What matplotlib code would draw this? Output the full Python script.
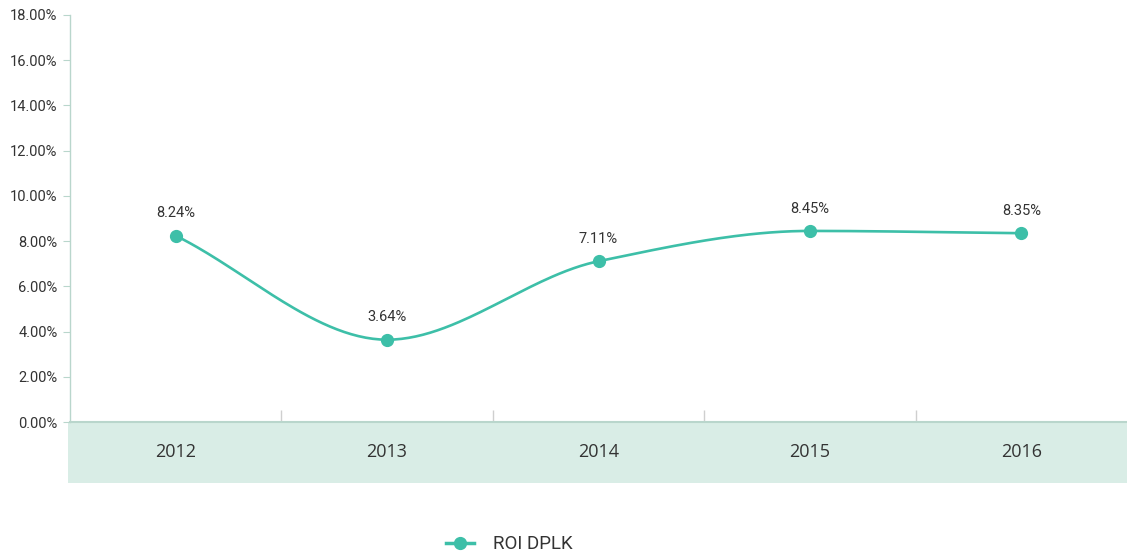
import numpy as np
import matplotlib
matplotlib.use("Agg")
import matplotlib.pyplot as plt
from matplotlib.patches import Rectangle
from matplotlib.ticker import FuncFormatter

years = ["2012", "2013", "2014", "2015", "2016"]
roi = [8.24, 3.64, 7.11, 8.45, 8.35]
labels = ["8.24%", "3.64%", "7.11%", "8.45%", "8.35%"]
series_name = "ROI DPLK"
y_ticks = [0, 2, 4, 6, 8, 10, 12, 14, 16, 18]

LINE = "#3dbfa8"
AXIS = "#b9d6cc"
BAND = "#d9ede6"
TEXT = "#333333"

plt.rcParams["font.family"] = ["Open Sans", "DejaVu Sans"]
NARROW = ["Roboto", "DejaVu Sans"]


def monotone_curve(x, y, n=60):
    """Fritsch-Carlson monotone cubic through the points."""
    x = np.asarray(x, float)
    y = np.asarray(y, float)
    h = np.diff(x)
    d = np.diff(y) / h
    m = np.zeros_like(y)
    m[0], m[-1] = d[0], d[-1]
    for i in range(1, len(y) - 1):
        if d[i - 1] * d[i] <= 0:
            m[i] = 0.0
        else:
            w1 = 2 * h[i] + h[i - 1]
            w2 = h[i] + 2 * h[i - 1]
            m[i] = (w1 + w2) / (w1 / d[i - 1] + w2 / d[i])
    xs, ys = [], []
    for i in range(len(h)):
        t = np.linspace(0, 1, n)
        h00 = 2 * t**3 - 3 * t**2 + 1
        h10 = t**3 - 2 * t**2 + t
        h01 = -2 * t**3 + 3 * t**2
        h11 = t**3 - t**2
        xs.append(x[i] + t * h[i])
        ys.append(h00 * y[i] + h10 * h[i] * m[i] + h01 * y[i + 1] + h11 * h[i] * m[i + 1])
    return np.concatenate(xs), np.concatenate(ys)


fig = plt.figure(figsize=(11.27, 5.57), dpi=100)
ax = fig.add_axes([70 / 1127, 1 - 422 / 557, 1 - 70 / 1127, 407 / 557])

xpos = np.arange(len(years)) + 0.5
cx, cy = monotone_curve(xpos, roi)
ax.plot(cx, cy, color=LINE, lw=1.9, zorder=3, solid_capstyle="round")
ax.plot(xpos, roi, "o", color=LINE, ms=8.5, zorder=4)

for xp, v, lab in zip(xpos, roi, labels):
    ax.annotate(lab, (xp, v), xytext=(0, 11), textcoords="offset points",
                ha="center", va="bottom", fontsize=10.5, color=TEXT, family=NARROW)

ax.set_xlim(0, len(years))
ax.set_ylim(0, 18)
ax.set_yticks(y_ticks)
ax.yaxis.set_major_formatter(FuncFormatter(lambda v, _: f"{v:.2f}%"))
ax.tick_params(axis="y", direction="out", length=5, color=AXIS, labelsize=10.5,
               labelcolor=TEXT, pad=4)
for t in ax.get_yticklabels():
    t.set_family(NARROW)
ax.set_xticks(np.arange(1, len(years)))
ax.set_xticklabels([])
ax.tick_params(axis="x", direction="in", length=8.5, color="#cfcfcf", width=1)

for s in ["top", "right", "bottom"]:
    ax.spines[s].set_visible(False)
ax.spines["left"].set_color(AXIS)
ax.spines["left"].set_linewidth(1.0)

# category band beneath the plot area
band_h = 61 / 407
ax.add_patch(Rectangle((-2 / 1057 * len(years), 0), len(years) * (1 + 2 / 1057), -band_h,
                       transform=ax.get_xaxis_transform(), facecolor=BAND,
                       edgecolor="none", clip_on=False, zorder=1))
ax.plot([0, len(years)], [0, 0], transform=ax.get_xaxis_transform(),
        color=AXIS, lw=1.5, clip_on=False, zorder=2)
for xp, yr in zip(xpos, years):
    ax.text(xp, -30 / 407, yr, transform=ax.get_xaxis_transform(),
            ha="center", va="center", fontsize=13, color=TEXT)

handle = plt.Line2D([], [], color=LINE, lw=2.5, marker="o", ms=8.5)
fig.legend([handle], [series_name], loc="center", bbox_to_anchor=(0.452, 0.023),
           frameon=False, handlelength=1.5, handletextpad=1.0,
           labelcolor=TEXT, prop={"family": NARROW, "size": 13.5})

fig.savefig("out.png", dpi=100)
